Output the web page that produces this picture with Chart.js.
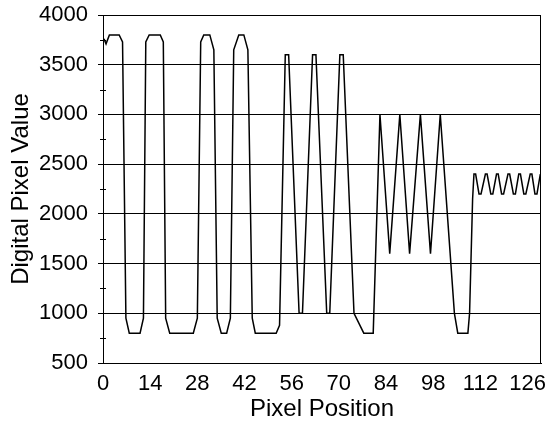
<!DOCTYPE html>
<html><head><meta charset="utf-8">
<script src="https://cdn.jsdelivr.net/npm/chart.js@4.4.0/dist/chart.umd.min.js"></script>
<style>html,body{margin:0;padding:0;background:#fff;}#wrap{width:550px;height:421px;}</style>
</head><body><div id="wrap"><canvas id="c" width="550" height="421"></canvas></div>
<script>
// Tick labels
const xTickLabels = [0, 14, 28, 42, 56, 70, 84, 98, 112, 126];
const yTickLabels = [500, 1000, 1500, 2000, 2500, 3000, 3500, 4000];
const yMinorTicks = [750, 1250, 1750, 2250, 2750, 3250, 3750];

// Wide bars (high ~3800, low 800)
const wideBarPos = [0.3, 0.9, 1.9, 4.8, 5.8, 6.8, 7.8, 11.0, 12.0, 12.7, 13.7, 17.0, 17.9, 18.6, 19.8, 26.8, 28.0, 29.0, 29.9, 31.7, 32.9, 33.9, 35.1, 36.7, 37.8, 38.8, 40.3, 41.8, 43.0, 44.3, 45.2, 51.4, 52.4];
const wideBarVal = [3760, 3710, 3800, 3800, 3730, 950, 800, 800, 950, 3730, 3800, 3800, 3730, 950, 800, 800, 950, 3730, 3800, 3800, 3650, 950, 800, 800, 950, 3650, 3800, 3800, 3650, 950, 800, 800, 880];

// Medium bars (high 3600, low 1000)
const midBarPos = [54.1, 55.1, 58.2, 59.2, 62.2, 63.2, 66.4, 67.3, 70.3, 71.3, 74.5, 77.4, 80.2];
const midBarVal = [3600, 3600, 1000, 1000, 3600, 3600, 1000, 1000, 3600, 3600, 1000, 800, 800];

// Narrow bars (3000 / 1600)
const narrowBarPos = [82.2, 85.1, 88.1, 91.0, 94.2, 97.2, 100.1, 104.3, 105.3, 108.3, 108.8, 109.7];
const narrowBarVal = [3000, 1600, 3000, 1600, 3000, 1600, 3000, 1000, 800, 800, 1000, 2150];

// Finest bars (ripple 2200 - 2400)
const ripplePos = [110.1, 110.6, 111.6, 112.2, 113.5, 114.0, 115.1, 115.7, 116.8, 117.3, 118.3, 118.9, 120.2, 120.7, 121.8, 122.4, 123.4, 123.9, 124.9, 125.5, 126.8, 127.3, 128.2, 128.8, 129.8];
const rippleVal = [2400, 2400, 2200, 2200, 2400, 2400, 2200, 2200, 2400, 2400, 2200, 2200, 2400, 2400, 2200, 2200, 2400, 2400, 2200, 2200, 2400, 2400, 2200, 2200, 2400];

const allPos = [].concat(wideBarPos, midBarPos, narrowBarPos, ripplePos);
const allVal = [].concat(wideBarVal, midBarVal, narrowBarVal, rippleVal);
const points = allPos.map((x, i) => ({x: x, y: allVal[i]}));

const FONT = '"Liberation Sans", Arial, Helvetica, sans-serif';
Chart.defaults.font.family = FONT;
Chart.defaults.color = '#000';

const framePlugin = {
  id: 'frame',
  afterDraw(chart) {
    const ctx = chart.ctx, a = chart.chartArea, ys = chart.scales.y;
    ctx.save();
    ctx.strokeStyle = '#000';
    ctx.lineWidth = 1;
    ctx.beginPath();
    ctx.moveTo(a.left, a.top + 0.5);
    ctx.lineTo(a.right - 0.5, a.top + 0.5);
    ctx.lineTo(a.right - 0.5, a.bottom);
    ctx.stroke();
    ctx.beginPath();
    yMinorTicks.forEach(v => {
      const py = Math.round(ys.getPixelForValue(v)) + 0.5;
      ctx.moveTo(a.left - 3, py);
      ctx.lineTo(a.left + 3, py);
    });
    ctx.stroke();
    ctx.restore();
  }
};

new Chart(document.getElementById('c'), {
  type: 'line',
  data: {
    datasets: [{
      data: points,
      borderColor: '#000',
      borderWidth: 1.5,
      pointRadius: 0,
      tension: 0,
      fill: false
    }]
  },
  options: {
    responsive: false,
    animation: false,
    devicePixelRatio: 1,
    layout: { padding: { top: 15, right: 9, left: 0, bottom: 0 } },
    plugins: { legend: { display: false }, tooltip: { enabled: false } },
    scales: {
      x: {
        type: 'linear',
        min: 0,
        max: 130,
        afterFit(s) { s.height = 58; s.paddingLeft = 0; s.paddingRight = 0; },
        afterBuildTicks(s) { s.ticks = xTickLabels.map(v => ({value: v})); },
        ticks: { stepSize: 14, includeBounds: false, padding: 8, font: { size: 22 }, color: '#000', maxRotation: 0, autoSkip: false, callback: v => String(v) },
        grid: { drawOnChartArea: false, drawTicks: false },
        border: { display: true, color: '#000', width: 1 },
        title: { display: true, text: 'Pixel Position', font: { size: 24, lineHeight: 1 }, padding: { top: 0, bottom: 0 }, color: '#000' }
      },
      y: {
        min: 500,
        max: 4000,
        afterFit(s) { s.width = 103; s.paddingTop = 0; s.paddingBottom = 0; },
        afterBuildTicks(s) { s.ticks = yTickLabels.map(v => ({value: v})); },
        ticks: { stepSize: 500, padding: 10, font: { size: 22 }, color: '#000', autoSkip: false, callback: v => String(v) },
        grid: { color: '#000', lineWidth: 1, tickLength: 5, tickColor: '#000' },
        border: { display: true, color: '#000', width: 1 },
        title: { display: true, text: 'Digital Pixel Value', font: { size: 24, lineHeight: 1 }, padding: { top: 9, bottom: 0 }, color: '#000' }
      }
    }
  },
  plugins: [framePlugin]
});
</script>
</body></html>
